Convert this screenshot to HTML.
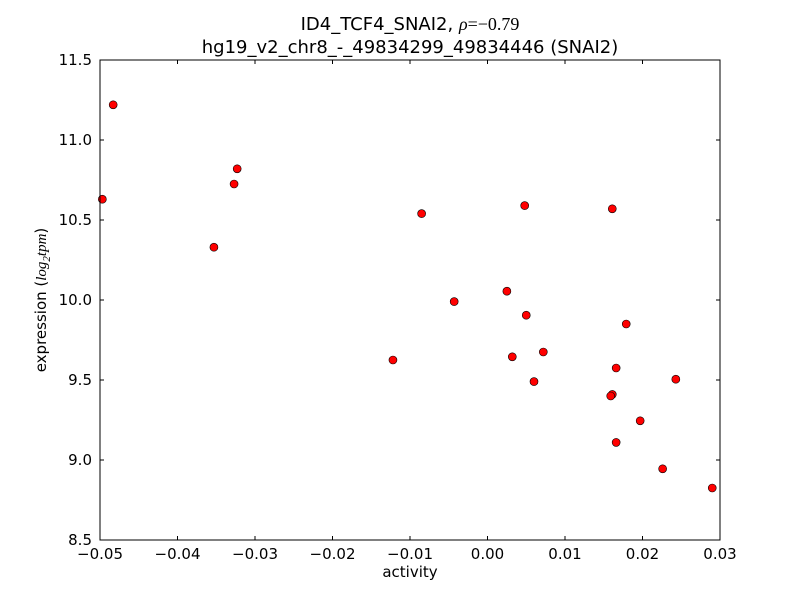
<!DOCTYPE html>
<html><head><meta charset="utf-8"><style>
body{margin:0;background:#fff;width:800px;height:600px;overflow:hidden}
svg text{font-family:"DejaVu Sans","Liberation Sans",sans-serif;fill:#000}
</style></head><body>
<svg id="chart" width="800" height="600">
<rect width="800" height="600" fill="#fff"/>
<text x="410" y="30" font-size="18" text-anchor="middle">ID4_TCF4_SNAI2, <tspan font-family="Liberation Serif" font-style="italic">ρ</tspan><tspan font-family="Liberation Serif">=−0.79</tspan></text>
<text x="410" y="53" font-size="18" text-anchor="middle">hg19_v2_chr8_-_49834299_49834446 (SNAI2)</text>
<g id="ticks"></g>
<g id="points"></g>
<rect x="100" y="60" width="620" height="480" fill="none" stroke="#000" stroke-width="1"/>
<text x="410" y="577" font-size="15" text-anchor="middle">activity</text>
<text transform="translate(46,300) rotate(-90)" font-size="15" text-anchor="middle">expression (<tspan font-family="Liberation Serif" font-style="italic">log</tspan><tspan font-family="Liberation Serif" font-style="italic" font-size="11" dy="4">2</tspan><tspan font-family="Liberation Serif" font-style="italic" dy="-4">tpm</tspan>)</text>
</svg>
<script>
const xVals=[-0.0483,-0.0497,-0.0323,-0.0327,-0.0353,-0.0085,0.0048,0.0161,-0.0043,0.0025,0.0050,0.0179,-0.0122,0.0032,0.0072,0.0060,0.0166,0.0161,0.0159,0.0243,0.0197,0.0166,0.0226,0.0290];
const yVals=[11.22,10.63,10.82,10.725,10.33,10.54,10.59,10.57,9.99,10.055,9.905,9.85,9.625,9.645,9.675,9.49,9.575,9.41,9.40,9.505,9.245,9.11,8.945,8.825];
const xTicks=[-0.05,-0.04,-0.03,-0.02,-0.01,0.00,0.01,0.02,0.03];
const xTickLabels=["−0.05","−0.04","−0.03","−0.02","−0.01","0.00","0.01","0.02","0.03"];
const yTicks=[8.5,9.0,9.5,10.0,10.5,11.0,11.5];
const yTickLabels=["8.5","9.0","9.5","10.0","10.5","11.0","11.5"];
const X0=100,X1=720,Y0=540,Y1=60,xmin=-0.05,xmax=0.03,ymin=8.5,ymax=11.5;
const sx=v=>X0+(v-xmin)/(xmax-xmin)*(X1-X0);
const sy=v=>Y0-(v-ymin)/(ymax-ymin)*(Y0-Y1);
const NS="http://www.w3.org/2000/svg";
const tg=document.getElementById('ticks'),pg=document.getElementById('points');
function mk(t,a,p){const e=document.createElementNS(NS,t);for(const k in a)e.setAttribute(k,a[k]);p.appendChild(e);return e;}
xTicks.forEach((v,i)=>{const x=sx(v);
 const l1=mk('line',{x1:x,x2:x,y1:Y0,y2:Y0-4,stroke:'#000'},tg);
 
 
 const l2=mk('line',{x1:x,x2:x,y1:Y1,y2:Y1+4,stroke:'#000'},tg);
 
 
 const t=mk('text',{x:x,y:Y0+19,'font-size':15,'text-anchor':'middle'},tg);t.textContent=xTickLabels[i];
 
 
});
yTicks.forEach((v,i)=>{const y=sy(v);
 const l1=mk('line',{x1:X0,x2:X0+4,y1:y,y2:y,stroke:'#000'},tg);
 
 
 const l2=mk('line',{x1:X1,x2:X1-4,y1:y,y2:y,stroke:'#000'},tg);
 
 
 const t=mk('text',{x:X0-8,y:y+5,'font-size':15,'text-anchor':'end'},tg);t.textContent=yTickLabels[i];
 
 
});
xVals.forEach((v,i)=>{
 const c=mk('circle',{cx:sx(v),cy:sy(yVals[i]),r:4,fill:'#ff0000',stroke:'#000','stroke-width':0.6},pg);
 
 
});
</script>
</body></html>
